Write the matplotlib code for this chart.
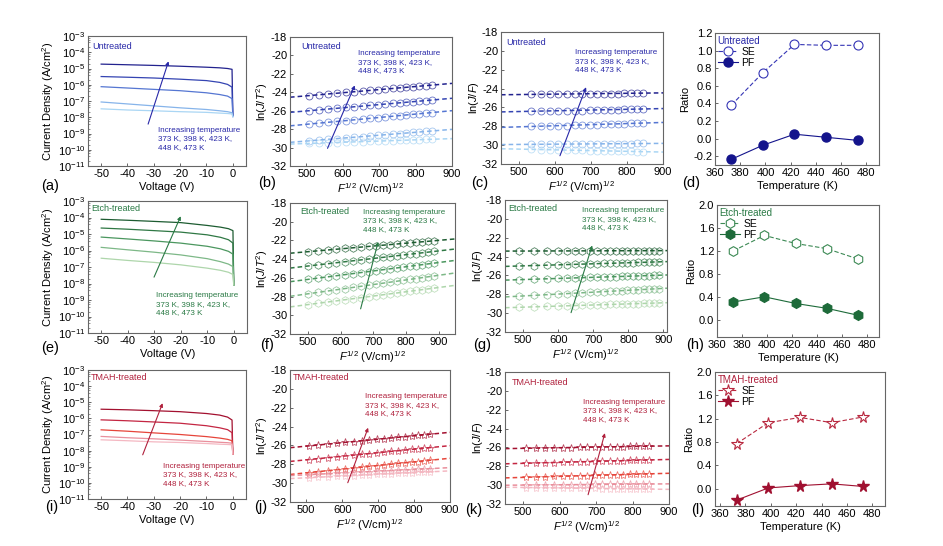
import numpy as np
import matplotlib
matplotlib.use('Agg')
import matplotlib.pyplot as plt
from matplotlib.ticker import LogLocator, NullFormatter, FormatStrFormatter

plt.rcParams['font.family'] = ['Liberation Sans', 'DejaVu Sans']
plt.rcParams['mathtext.fontset'] = 'custom'
plt.rcParams['mathtext.rm'] = 'Liberation Sans'
plt.rcParams['mathtext.it'] = 'Liberation Sans:italic'
plt.rcParams['mathtext.bf'] = 'Liberation Sans:bold'
plt.rcParams['axes.unicode_minus'] = False

temps = [373, 398, 423, 448, 473]
temp_text = 'Increasing temperature\n373 K, 398 K, 423 K,\n448 K, 473 K'

# series colours, 473 K first
blues = ['#22228e', '#3444b2', '#5576d2', '#86b4ea', '#aad6f4']
greens = ['#1d5c31', '#2f7844', '#4b975f', '#7db887', '#aed6ab']
reds = ['#a3102f', '#c42642', '#e6453a', '#e98f9c', '#f4b8c2']
name_colors = {'Untreated': '#2828a8', 'Etch-treated': '#2a7a45', 'TMAH-treated': '#b0203c'}

# J-V curves (A/cm2), rows 473 K -> 373 K
voltage = [-50, -40, -30, -20, -10, -5, -2, -0.3, 0]
jv_untreated = [
    [1.86e-5, 1.70e-5, 1.55e-5, 1.38e-5, 1.20e-5, 1.10e-5, 1.0e-5, 8.9e-6, 1.3e-8],
    [3.2e-6, 2.9e-6, 2.6e-6, 2.2e-6, 1.8e-6, 1.4e-6, 1.05e-6, 7.1e-7, 1.3e-8],
    [7.6e-7, 6.3e-7, 5.2e-7, 4.3e-7, 3.2e-7, 2.5e-7, 2.0e-7, 1.4e-7, 1.1e-8],
    [8.7e-8, 6.6e-8, 5.0e-8, 3.8e-8, 3.0e-8, 2.5e-8, 2.2e-8, 1.9e-8, 1.1e-8],
    [3.3e-8, 2.8e-8, 2.5e-8, 2.2e-8, 2.0e-8, 1.8e-8, 1.7e-8, 1.6e-8, 1.1e-8],
]
jv_etch = [
    [7.8e-5, 6.8e-5, 5.8e-5, 4.9e-5, 3.3e-5, 2.6e-5, 2.1e-5, 1.6e-5, 8e-9],
    [2.3e-5, 1.95e-5, 1.6e-5, 1.3e-5, 8.9e-6, 6.3e-6, 4.5e-6, 2.8e-6, 8e-9],
    [6.5e-6, 5.0e-6, 3.8e-6, 2.8e-6, 1.8e-6, 1.26e-6, 8.9e-7, 6.0e-7, 8e-9],
    [1.55e-6, 1.1e-6, 7.9e-7, 5.4e-7, 3.2e-7, 2.1e-7, 1.5e-7, 1.05e-7, 8e-9],
    [3.4e-7, 2.5e-7, 1.9e-7, 1.35e-7, 8.5e-8, 6.3e-8, 4.8e-8, 3.5e-8, 8e-9],
]
jv_tmah = [
    [3.7e-6, 3.4e-6, 3.0e-6, 2.6e-6, 2.0e-6, 1.6e-6, 1.2e-6, 7.9e-7, 6e-9],
    [8.1e-7, 7.1e-7, 6.0e-7, 5.0e-7, 3.5e-7, 2.6e-7, 2.0e-7, 1.3e-7, 6e-9],
    [1.95e-7, 1.6e-7, 1.26e-7, 1.0e-7, 7.4e-8, 6.0e-8, 5.0e-8, 4.1e-8, 6e-9],
    [7.6e-8, 6.3e-8, 5.4e-8, 4.5e-8, 3.7e-8, 3.3e-8, 3.1e-8, 2.9e-8, 6e-9],
    [4.7e-8, 4.1e-8, 3.5e-8, 3.2e-8, 2.75e-8, 2.5e-8, 2.4e-8, 2.3e-8, 6e-9],
]

# F^1/2 values (V/cm)^1/2
F_untreated_se = [507, 534, 560, 585, 609, 632, 655, 676, 697, 717, 737, 756, 774, 793, 810, 828, 845]
F_untreated_pf = [534, 560, 585, 609, 632, 655, 676, 697, 717, 737, 756, 774, 793, 810, 828, 845]
F_etch_se = [501, 531, 560, 587, 613, 638, 662, 686, 708, 730, 751, 772, 792, 811, 830, 849, 867, 885]
F_etch_pf = [489, 532, 567, 598, 624, 647, 669, 690, 710, 729, 747, 764, 781, 797, 813, 828, 843, 858, 872, 886]
F_tmah = [507, 534, 560, 585, 609, 632, 655, 676, 697, 717, 737, 756, 774, 793, 810, 828, 845]

# ln(J/T^2), Schottky emission plots
se_untreated = [
    [-24.36, -24.27, -24.18, -24.10, -24.02, -23.94, -23.86, -23.79, -23.72, -23.65, -23.58, -23.52, -23.46, -23.40, -23.34, -23.28, -23.22],
    [-26.00, -25.91, -25.82, -25.73, -25.65, -25.57, -25.49, -25.42, -25.35, -25.28, -25.21, -25.15, -25.08, -25.02, -24.96, -24.90, -24.84],
    [-27.45, -27.35, -27.25, -27.16, -27.07, -26.99, -26.90, -26.83, -26.75, -26.67, -26.60, -26.53, -26.46, -26.39, -26.33, -26.26, -26.20],
    [-29.27, -29.18, -29.10, -29.02, -28.95, -28.87, -28.80, -28.74, -28.67, -28.61, -28.54, -28.48, -28.42, -28.36, -28.31, -28.25, -28.20],
    [-29.55, -29.51, -29.48, -29.45, -29.41, -29.38, -29.35, -29.33, -29.30, -29.27, -29.24, -29.22, -29.19, -29.17, -29.15, -29.12, -29.10],
]
se_etch = [
    [-23.20, -23.11, -23.02, -22.94, -22.86, -22.79, -22.71, -22.64, -22.57, -22.51, -22.44, -22.38, -22.32, -22.26, -22.21, -22.15, -22.09, -22.04],
    [-24.73, -24.61, -24.49, -24.38, -24.28, -24.18, -24.08, -23.98, -23.89, -23.81, -23.72, -23.64, -23.56, -23.48, -23.40, -23.33, -23.25, -23.18],
    [-26.16, -26.03, -25.89, -25.77, -25.65, -25.54, -25.44, -25.33, -25.23, -25.13, -25.03, -24.94, -24.85, -24.76, -24.68, -24.59, -24.51, -24.43],
    [-27.70, -27.55, -27.41, -27.27, -27.15, -27.02, -26.90, -26.78, -26.68, -26.57, -26.46, -26.36, -26.26, -26.17, -26.07, -25.98, -25.89, -25.80],
    [-28.85, -28.71, -28.58, -28.46, -28.34, -28.23, -28.12, -28.01, -27.91, -27.81, -27.71, -27.61, -27.52, -27.44, -27.35, -27.26, -27.18, -27.10],
]
se_tmah = [
    [-26.05, -25.95, -25.86, -25.76, -25.68, -25.59, -25.51, -25.43, -25.35, -25.28, -25.21, -25.14, -25.07, -25.00, -24.94, -24.87, -24.81],
    [-27.50, -27.40, -27.30, -27.21, -27.12, -27.03, -26.94, -26.87, -26.79, -26.71, -26.64, -26.56, -26.50, -26.43, -26.36, -26.29, -26.23],
    [-28.88, -28.78, -28.67, -28.58, -28.48, -28.40, -28.31, -28.23, -28.14, -28.07, -27.99, -27.91, -27.85, -27.77, -27.71, -27.64, -27.57],
    [-29.10, -29.05, -29.00, -28.95, -28.91, -28.86, -28.82, -28.78, -28.74, -28.70, -28.66, -28.63, -28.59, -28.56, -28.53, -28.49, -28.46],
    [-29.42, -29.37, -29.32, -29.28, -29.23, -29.19, -29.15, -29.11, -29.07, -29.03, -29.00, -28.96, -28.93, -28.90, -28.86, -28.83, -28.80],
]

# ln(J/F), Poole-Frenkel plots
pf_untreated = [
    [-24.57, -24.58, -24.58, -24.59, -24.59, -24.59, -24.58, -24.58, -24.57, -24.56, -24.55, -24.53, -24.51, -24.48, -24.45, -24.42],
    [-26.35, -26.36, -26.36, -26.36, -26.35, -26.34, -26.33, -26.31, -26.29, -26.27, -26.25, -26.22, -26.20, -26.17, -26.15, -26.12],
    [-27.95, -27.96, -27.96, -27.95, -27.93, -27.91, -27.89, -27.86, -27.83, -27.80, -27.77, -27.74, -27.71, -27.68, -27.65, -27.62],
    [-29.88, -29.89, -29.90, -29.90, -29.90, -29.90, -29.89, -29.89, -29.88, -29.87, -29.86, -29.85, -29.84, -29.83, -29.82, -29.80],
    [-30.45, -30.47, -30.49, -30.51, -30.52, -30.54, -30.56, -30.57, -30.59, -30.60, -30.62, -30.63, -30.65, -30.66, -30.68, -30.70],
]
pf_etch = [
    [-23.40, -23.41, -23.41, -23.41, -23.40, -23.40, -23.40, -23.39, -23.39, -23.39, -23.39, -23.38, -23.38, -23.38, -23.38, -23.38, -23.37, -23.37, -23.37, -23.37],
    [-25.00, -24.95, -24.91, -24.88, -24.85, -24.82, -24.80, -24.78, -24.75, -24.73, -24.71, -24.70, -24.68, -24.66, -24.64, -24.62, -24.61, -24.59, -24.58, -24.56],
    [-26.45, -26.40, -26.36, -26.32, -26.29, -26.26, -26.24, -26.21, -26.19, -26.17, -26.14, -26.12, -26.10, -26.09, -26.07, -26.05, -26.03, -26.01, -26.00, -25.98],
    [-28.20, -28.11, -28.04, -27.98, -27.93, -27.88, -27.84, -27.80, -27.75, -27.72, -27.68, -27.65, -27.61, -27.58, -27.55, -27.52, -27.49, -27.46, -27.43, -27.40],
    [-29.38, -29.33, -29.29, -29.25, -29.22, -29.20, -29.17, -29.15, -29.12, -29.10, -29.08, -29.06, -29.04, -29.02, -29.00, -28.99, -28.97, -28.95, -28.94, -28.92],
]
pf_tmah = [
    [-26.09, -26.07, -26.06, -26.04, -26.02, -26.01, -25.99, -25.98, -25.97, -25.95, -25.94, -25.93, -25.92, -25.90, -25.89, -25.88, -25.87],
    [-27.68, -27.65, -27.62, -27.60, -27.57, -27.55, -27.53, -27.51, -27.48, -27.46, -27.44, -27.42, -27.40, -27.38, -27.37, -27.35, -27.33],
    [-29.17, -29.14, -29.11, -29.08, -29.06, -29.03, -29.01, -28.99, -28.96, -28.94, -28.92, -28.90, -28.88, -28.86, -28.84, -28.82, -28.80],
    [-29.99, -29.98, -29.97, -29.97, -29.96, -29.95, -29.94, -29.94, -29.93, -29.92, -29.91, -29.91, -29.90, -29.90, -29.89, -29.89, -29.88],
    [-30.25, -30.26, -30.28, -30.29, -30.30, -30.31, -30.32, -30.33, -30.35, -30.36, -30.37, -30.38, -30.38, -30.39, -30.40, -30.41, -30.42],
]

# SE / PF ratios vs temperature
ratio_se_untreated = [0.38, 0.75, 1.07, 1.06, 1.06]
ratio_pf_untreated = [-0.235, -0.075, 0.05, 0.015, -0.02]
ratio_se_etch = [1.20, 1.47, 1.33, 1.24, 1.06]
ratio_pf_etch = [0.31, 0.40, 0.285, 0.20, 0.08]
ratio_se_tmah = [0.77, 1.13, 1.22, 1.13, 1.23]
ratio_pf_tmah = [-0.20, 0.01, 0.05, 0.08, 0.035]

W, H = 943, 546


def px_axes(fig, left, right, top, bottom):
    return fig.add_axes([left / W, 1 - bottom / H, (right - left) / W, (bottom - top) / H])


def style(ax):
    for s in ax.spines.values():
        s.set_color('#666666')
        s.set_linewidth(0.8)
    ax.tick_params(which='both', direction='in', color='#666666')
    ax.tick_params(which='major', length=2.5, width=0.7, labelsize=8, pad=2)
    ax.tick_params(which='minor', length=1.3, width=0.5)


def label_name(ax, name, xy):
    ax.text(xy[0], xy[1], name, transform=ax.transAxes, fontsize=6.5,
            color=name_colors[name], ha='left', va='center')


def temp_note(ax, name, text_xy, arrow):
    c = name_colors[name]
    ax.text(text_xy[0], text_xy[1], temp_text, color=c, fontsize=5.8,
            ha='left', va='top', linespacing=1.3)
    ax.annotate('', xy=arrow[1], xytext=arrow[0],
                arrowprops=dict(arrowstyle='-|>', color=c, lw=0.8, mutation_scale=5))


def jv_panel(ax, curves, colors, name, name_xy, text_xy, arrow):
    for J, c in zip(curves, colors):
        ax.plot(voltage, J, color=c, lw=0.9)
    ax.set_yscale('log')
    ax.set_ylim(1e-11, 1e-3)
    ax.set_xlim(-55, 5)
    ax.yaxis.set_major_locator(LogLocator(base=10, numticks=15))
    ax.yaxis.set_minor_locator(LogLocator(base=10, subs=(2, 4, 6, 8), numticks=15))
    ax.yaxis.set_minor_formatter(NullFormatter())
    ax.set_xticks(range(-50, 1, 10))
    ax.set_xlabel('Voltage (V)', fontsize=8, labelpad=2)
    ax.set_ylabel('Current Density (A/cm$^2$)', fontsize=8, labelpad=1)
    style(ax)
    label_name(ax, name, name_xy)
    temp_note(ax, name, text_xy, arrow)


def ln_panel(ax, F, series, colors, marker, ms, xlim, ylabel, name, name_xy, text_xy, arrow):
    xs = np.array(xlim, dtype=float)
    for y, c in zip(series, colors):
        ax.plot(F, y, ls='none', marker=marker, ms=ms, mfc='none', mec=c, mew=0.6, alpha=0.75)
        k, b = np.polyfit(F, y, 1)
        ax.plot(xs, k * xs + b, ls=(0, (3, 2)), color=c, lw=1.1)
    ax.set_xlim(*xlim)
    ax.set_ylim(-32, -18)
    ax.set_yticks(range(-32, -17, 2))
    ax.set_xticks(range(500, 901, 100))
    ax.set_xlabel(r'$F^{1/2}$ (V/cm)$^{1/2}$', fontsize=8, labelpad=2)
    ax.set_ylabel(ylabel, fontsize=8, labelpad=1)
    style(ax)
    label_name(ax, name, name_xy)
    temp_note(ax, name, text_xy, arrow)


def ratio_panel(ax, se, pf, c_se, c_pf, marker, ms, name, ylim, yticks):
    ax.plot(temps, se, ls=(0, (4, 2)), lw=0.8, color=c_se, marker=marker, ms=ms,
            mfc='white', mec=c_se, mew=0.8, label='SE')
    ax.plot(temps, pf, ls='-', lw=0.8, color=c_pf, marker=marker, ms=ms,
            mfc=c_pf, mec=c_pf, label='PF')
    ax.set_ylim(*ylim)
    ax.set_yticks(yticks)
    ax.yaxis.set_major_formatter(FormatStrFormatter('%.1f'))
    ax.set_xticks(range(360, 481, 20))
    ax.set_xlabel('Temperature (K)', fontsize=8, labelpad=2)
    ax.set_ylabel('Ratio', fontsize=8, labelpad=2)
    style(ax)
    leg = ax.legend(title=name, loc='upper left', frameon=False, fontsize=7.5, title_fontsize=7,
                    handlelength=2.0, handletextpad=0.3, labelspacing=0.1,
                    borderaxespad=0.15, borderpad=0.1, alignment='left')
    leg.get_title().set_color(name_colors[name])


fig = plt.figure(figsize=(W / 100, H / 100), dpi=100)

# row 1 - untreated
ax = px_axes(fig, 88, 246, 36, 166)
jv_panel(ax, jv_untreated, blues, 'Untreated', (0.03, 0.92), (-28.4, 2.5e-9),
         ((-32.5, 2.6e-9), (-24.1, 4e-5)))
ax = px_axes(fig, 290, 452, 37, 166)
ln_panel(ax, F_untreated_se, se_untreated, blues, 'o', 5, (455, 900), r'ln($J$/$T^2$)',
         'Untreated', (0.07, 0.93), (643, -19.45), ((555, -30.36), (636, -22.98)))
ax = px_axes(fig, 501, 663, 32, 164)
ln_panel(ax, F_untreated_pf, pf_untreated, blues, 'o', 5, (450, 900), r'ln($J$/$F$)',
         'Untreated', (0.03, 0.924), (655, -19.85), ((611, -31.4), (689, -23.58)))
ax = px_axes(fig, 715, 879, 33, 165)
ratio_panel(ax, ratio_se_untreated, ratio_pf_untreated, '#3535b5', '#14148c', 'o', 6.5,
            'Untreated', (-0.3, 1.2), np.arange(-0.2, 1.21, 0.2))
ax.set_xlim(360, 490)

# row 2 - etch-treated
ax = px_axes(fig, 88, 247, 201, 333)
jv_panel(ax, jv_etch, greens, 'Etch-treated', (0.02, 0.94), (-29.3, 2.9e-9),
         ((-30.5, 1.7e-8), (-19.6, 1.7e-4)))
ax = px_axes(fig, 290, 455, 203, 334)
ln_panel(ax, F_etch_se, se_etch, greens, 'h', 5.5, (445, 950), r'ln($J$/$T^2$)',
         'Etch-treated', (0.06, 0.934), (669, -18.6), ((659, -29.6), (717, -21.86)))
ax = px_axes(fig, 505, 667, 200, 332)
ln_panel(ax, F_etch_pf, pf_etch, greens, 'h', 5.5, (448, 910), r'ln($J$/$F$)',
         'Etch-treated', (0.02, 0.936), (667, -18.78), ((634, -30.23), (699, -22.54)))
ax = px_axes(fig, 717, 879, 205, 337)
ratio_panel(ax, ratio_se_etch, ratio_pf_etch, '#3d8a55', '#1e6b3a', 'h', 7,
            'Etch-treated', (-0.3, 2.0), np.arange(0, 2.01, 0.4))
ax.set_xlim(360, 490)

# row 3 - TMAH-treated
ax = px_axes(fig, 88, 246, 370, 499)
jv_panel(ax, jv_tmah, reds, 'TMAH-treated', (0.02, 0.94), (-26.7, 1.7e-9),
         ((-34.6, 3.8e-9), (-26.3, 1.26e-5)))
ax = px_axes(fig, 290, 450, 370, 502)
ln_panel(ax, F_tmah, se_tmah, reds, '*', 6, (455, 900), r'ln($J$/$T^2$)',
         'TMAH-treated', (0.02, 0.94), (664, -20.48), ((613, -30.23), (675, -23.85)))
ax = px_axes(fig, 505, 669, 372, 504)
ln_panel(ax, F_tmah, pf_tmah, reds, '*', 6, (450, 900), r'ln($J$/$F$)',
         'TMAH-treated', (0.04, 0.92), (665, -20.84), ((676, -31.3), (726, -24.2)))
ax = px_axes(fig, 715, 885, 372, 506)
ratio_panel(ax, ratio_se_tmah, ratio_pf_tmah, '#b8283f', '#a01030', '*', 8.5,
            'TMAH-treated', (-0.3, 2.0), np.arange(0, 2.01, 0.4))
ax.set_xlim(356, 490)

# panel letters
letters = [('(a)', 50, 186), ('(b)', 267, 183), ('(c)', 480, 183), ('(d)', 691, 183),
           ('(e)', 50, 348), ('(f)', 267, 345), ('(g)', 482, 345), ('(h)', 695, 345),
           ('(i)', 52, 507), ('(j)', 261, 507), ('(k)', 474, 510), ('(l)', 698, 510)]
for s, x, y in letters:
    fig.text(x / W, 1 - y / H, s, fontsize=10.5, ha='center', va='center')

fig.savefig('out.png', dpi=100)
